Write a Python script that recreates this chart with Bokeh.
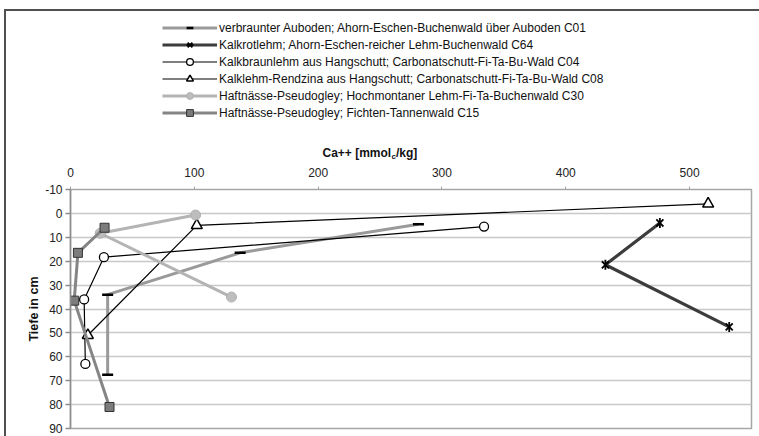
import math
from bokeh.plotting import figure
from bokeh.layouts import row, column
from bokeh.models import Range1d, FixedTicker, Legend, LegendItem, Label, Spacer
from bokeh.embed import file_html
from bokeh.resources import INLINE

# ---- data ----
labels = [
    "verbraunter Auboden; Ahorn-Eschen-Buchenwald über Auboden C01",
    "Kalkrotlehm; Ahorn-Eschen-reicher Lehm-Buchenwald C64",
    "Kalkbraunlehm aus Hangschutt; Carbonatschutt-Fi-Ta-Bu-Wald C04",
    "Kalklehm-Rendzina aus Hangschutt; Carbonatschutt-Fi-Ta-Bu-Wald C08",
    "Haftnässe-Pseudogley; Hochmontaner Lehm-Fi-Ta-Buchenwald C30",
    "Haftnässe-Pseudogley; Fichten-Tannenwald C15",
]
x_C01 = [281, 137, 30, 30]
y_C01 = [4.5, 16.5, 34, 67.5]
x_C64 = [476, 432, 532]
y_C64 = [4, 21.5, 47.5]
x_C04 = [334, 27, 11, 12]
y_C04 = [5.5, 18.3, 36, 63]
x_C08 = [515, 102, 14]
y_C08 = [-4, 5, 51]
x_C30 = [101, 24, 130]
y_C30 = [0.7, 8.3, 35]
x_C15 = [27.5, 6, 3, 31.5]
y_C15 = [6, 16.5, 36.5, 81]
x_ticks = [0, 100, 200, 300, 400, 500]
y_ticks = [-10, 0, 10, 20, 30, 40, 50, 60, 70, 80, 90]
x_title = ["Ca++ [mmol", "c", "/kg]"]
y_title = "Tiefe in cm"

FONT = "Liberation Sans"
FRAME = "#505050"
W = 753          # width of the right-hand column
ML, MR = 64, 8   # side borders of the plot area

# ---- main plot ----
p = figure(width=W, height=275, output_backend="svg", toolbar_location=None,
           x_range=Range1d(0, 550), y_range=Range1d(90, -10),
           x_axis_location="above",
           min_border_left=ML, min_border_right=MR,
           min_border_top=28, min_border_bottom=8)
p.background_fill_color = "white"
p.border_fill_color = "white"
p.outline_line_color = "#a6a6a6"
p.outline_line_width = 1.5

p.xgrid.visible = False
p.ygrid.grid_line_color = "#c8c8c8"
p.ygrid.grid_line_width = 1.5

xa = p.xaxis[0]
xa.ticker = FixedTicker(ticks=x_ticks)
xa.axis_line_color = None
xa.major_tick_line_color = "#a6a6a6"
xa.major_tick_out = 3
xa.major_tick_in = 0
xa.minor_tick_line_color = None
xa.major_label_standoff = 10
xa.major_label_text_font = FONT
xa.major_label_text_font_size = "12px"
xa.major_label_text_color = "#222222"

ya = p.yaxis[0]
ya.ticker = FixedTicker(ticks=y_ticks)
ya.major_label_overrides = {t: str(t) for t in y_ticks}
ya.axis_line_color = "#8c8c8c"
ya.axis_line_width = 1.5
ya.major_tick_line_color = "#8c8c8c"
ya.major_tick_line_width = 1.5
ya.major_tick_out = 5
ya.major_tick_in = 0
ya.minor_tick_line_color = None
ya.major_label_standoff = 3
ya.major_label_text_font = FONT
ya.major_label_text_font_size = "12px"
ya.major_label_text_color = "#222222"
ya.axis_label = y_title
ya.axis_label_text_font = FONT
ya.axis_label_text_font_style = "bold"
ya.axis_label_text_font_size = "12.5px"
ya.axis_label_text_color = "#111111"
ya.axis_label_standoff = 1

# ---- top panel: legend + x-axis title (pixel coordinates) ----
top = figure(width=W, height=150, output_backend="svg", toolbar_location=None,
             x_range=Range1d(0, W - ML - MR), y_range=Range1d(150, 0),
             x_axis_type=None, y_axis_type=None,
             min_border_left=ML, min_border_right=MR, min_border_top=0, min_border_bottom=0)
top.grid.visible = False
top.outline_line_color = None
top.background_fill_color = "white"
top.border_fill_color = "white"

# chart frame edges (coloured spacers)
top_edge = Spacer(width=W, height=2, styles={"background-color": FRAME})
left_edge = Spacer(width=2, height=427, styles={"background-color": FRAME})


def series(xs, ys, line_kw, markers):
    """Draw a series on the main plot, and a legend stand-in on the top panel."""
    p.line(xs, ys, **line_kw)
    for m in markers:
        p.scatter(xs, ys, **m)
    leg_r = [top.line([-500, -400], [-500, -500], **line_kw)] + \
            [top.scatter([-500], [-500], **m) for m in markers]
    return leg_r


items = []
items.append(LegendItem(label=labels[0], renderers=series(
    x_C01, y_C01, dict(line_color="#9a9a9a", line_width=3),
    [dict(marker="dash", size=11, line_color="black", line_width=2.5)])))
items.append(LegendItem(label=labels[1], renderers=series(
    x_C64, y_C64, dict(line_color="#3c3c3c", line_width=3.2),
    [dict(marker="x", size=10, line_color="black", line_width=1.8),
     dict(marker="dash", angle=math.pi / 2, size=10, line_color="black", line_width=1.8)])))
items.append(LegendItem(label=labels[2], renderers=series(
    x_C04, y_C04, dict(line_color="black", line_width=1.2),
    [dict(marker="circle", size=9, fill_color="white", line_color="black", line_width=1.3)])))
items.append(LegendItem(label=labels[3], renderers=series(
    x_C08, y_C08, dict(line_color="black", line_width=1.2),
    [dict(marker="triangle", size=11, fill_color="white", line_color="black", line_width=1.5)])))
items.append(LegendItem(label=labels[4], renderers=series(
    x_C30, y_C30, dict(line_color="#b4b4b4", line_width=3),
    [dict(marker="circle", size=10, fill_color="#bdbdbd", line_color="#b0b0b0", line_width=1)])))
items.append(LegendItem(label=labels[5], renderers=series(
    x_C15, y_C15, dict(line_color="#858585", line_width=3),
    [dict(marker="square", size=9, fill_color="#7c7c7c", line_color="#333333", line_width=1)])))

legend = Legend(items=items, location=(92, 40), orientation="vertical",
                glyph_width=55, glyph_height=17, label_height=17, spacing=0,
                padding=0, margin=0, label_standoff=2,
                border_line_color=None, background_fill_alpha=0,
                label_text_font=FONT, label_text_font_size="12px",
                label_text_color="#111111")
top.add_layout(legend, "center")

ty = 141.7
top.add_layout(Label(x=252, y=ty, text=x_title[0], text_font=FONT, text_font_size="12px",
                     text_font_style="bold", text_align="left", text_baseline="middle",
                     text_color="#111111"))
top.add_layout(Label(x=321, y=ty + 3.5, text=x_title[1], text_font=FONT, text_font_size="8px",
                     text_font_style="bold", text_align="left", text_baseline="middle",
                     text_color="#111111"))
top.add_layout(Label(x=325.5, y=ty, text=x_title[2], text_font=FONT, text_font_size="12px",
                     text_font_style="bold", text_align="left", text_baseline="middle",
                     text_color="#111111"))

layout = row(
    Spacer(width=4, height=436),
    column(Spacer(width=2, height=9), left_edge, spacing=0),
    column(Spacer(width=W, height=9), top_edge, top, p, spacing=0),
    spacing=0,
)
open("out.html", "w").write(file_html(layout, INLINE))
